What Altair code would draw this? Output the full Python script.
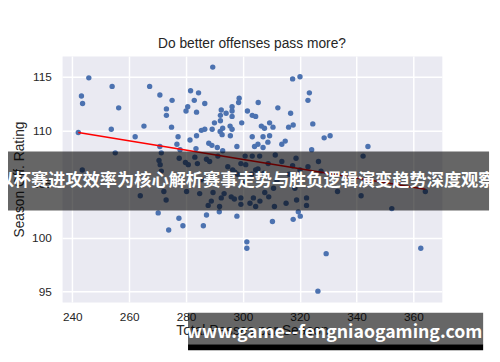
import altair as alt
import pandas as pd

# Total passes per season (x) and season offensive rating (y)
passes = [
    245.8, 254.0, 267.2, 243.2, 243.6, 256.3, 270.8, 275.1, 273.1, 273.1,
    242.1, 253.7, 265.2, 262.1, 274.9, 277.2, 276.8, 270.8, 277.9,
    289.4, 317.5, 320.1, 281.6, 284.4, 282.9, 286.6, 280.6, 280.0, 283.7,
    298.7, 298.5, 305.4, 296.2, 296.2, 296.2, 292.4, 294.1, 292.1,
    301.6, 303.3, 304.5, 312.3, 316.8, 322.9, 323.4,
    292.1, 290.0, 299.6, 286.6, 285.4, 289.2, 292.9, 292.0, 292.7,
    295.5, 296.2, 295.6, 306.5, 307.6, 309.4, 310.6, 316.1, 317.7,
    303.3, 307.1, 309.4, 283.7, 281.4, 288.0, 289.1, 291.0, 297.9,
    304.1, 305.3, 307.1, 308.8, 313.7, 314.9, 283.5, 292.9,
    324.6, 328.6, 330.7, 344.0, 324.2,
    255.1, 271.3, 270.5, 270.9, 271.3, 243.5, 277.6, 279.8,
    263.9, 272.2, 273.0,
    283.1, 287.2, 291.2, 300.8, 303.3, 305.9, 311.4, 313.7, 318.7,
    320.1, 317.5, 322.9, 280.8, 284.0, 288.3, 294.7, 299.3, 305.3, 308.9,
    296.4, 297.2, 298.1, 303.1, 304.5, 301.0, 307.4, 316.3, 326.6, 327.5,
    342.3, 333.3, 322.4, 322.4, 341.6, 352.4, 364.2,
    288.9, 292.4, 295.9, 299.3, 303.7, 306.0, 299.3, 302.5, 304.5,
    309.1, 315.2, 318.9, 291.8, 287.8, 280.2, 284.8, 289.5, 310.8, 318.3,
    293.4, 297.0, 311.1, 307.7,
    285.4, 300.5, 312.0,
    270.2, 273.9, 277.5, 278.9, 286.1, 287.2, 291.7, 297.9, 301.4, 301.4,
    310.4, 317.7, 319.5, 320.2, 329.3, 326.4, 362.6,
]
rating = [
    114.9, 114.1, 114.1, 113.2, 112.5, 112.1, 113.3, 112.8, 112.0, 111.4,
    109.8, 110.1, 110.4, 109.4, 110.3, 109.4, 108.7, 108.5, 108.2,
    115.9, 114.8, 115.0, 113.7, 113.5, 112.8, 112.5, 112.2, 111.8, 111.7,
    113.0, 112.6, 112.6, 112.2, 111.8, 111.3, 111.9, 111.6, 111.4,
    111.8, 111.4, 111.3, 112.1, 111.6, 112.8, 113.5,
    110.9, 110.7, 110.7, 110.1, 110.0, 110.1, 110.2, 109.9, 109.6,
    110.4, 110.1, 109.5, 110.4, 110.2, 110.7, 110.3, 110.3, 110.5,
    109.4, 109.4, 109.5, 109.5, 109.1, 108.8, 108.6, 108.4, 108.5,
    108.5, 108.7, 108.4, 108.9, 108.7, 109.0, 108.3, 108.1,
    110.6, 109.3, 109.5, 108.5, 108.2,
    107.9, 107.9, 107.2, 106.8, 106.2, 106.3, 107.4, 107.0,
    103.9, 104.3, 103.5,
    107.5, 107.3, 107.6, 107.6, 107.6, 107.6, 107.7, 107.1, 107.4,
    106.3, 106.7, 106.6, 106.8, 106.9, 107.1, 106.6, 106.9, 106.4, 106.9,
    106.3, 106.1, 105.9, 105.9, 106.3, 106.8, 106.0, 105.9, 107.1, 106.2,
    107.6, 104.3, 103.7, 103.0, 103.9, 102.7, 104.3,
    103.4, 103.7, 103.8, 103.7, 103.7, 103.4, 103.1, 103.2, 102.9,
    103.8, 103.2, 103.5, 102.9, 103.0, 104.3, 104.1, 104.2, 104.6, 104.6,
    104.1, 103.6, 102.9, 104.2,
    105.4, 105.1, 105.3,
    102.3, 100.7, 101.8, 101.1, 101.1, 102.1, 102.4, 102.0, 99.6, 99.0,
    101.5, 101.7, 102.4, 102.0, 98.5, 95.0, 99.0,
]

# fitted regression line end points
fit_x = [242.1, 364.2]
fit_y = [109.8, 104.5]

x_ticks = [240, 260, 280, 300, 320, 340, 360]
y_ticks = [95, 100, 105, 110, 115]

banner_text = "以杯赛进攻效率为核心解析赛事走势与胜负逻辑演变趋势深度观察"
mark_text = "www.game--fengniaogaming.com"

df = pd.DataFrame({"passes": passes, "rating": rating})
fit = pd.DataFrame({"passes": fit_x, "rating": fit_y})
one = pd.DataFrame({"k": [0]})

xs = alt.Scale(domain=[236.4, 370.0], nice=False, zero=False)
ys = alt.Scale(domain=[93.99, 116.93], nice=False, zero=False)

xax = alt.Axis(values=x_ticks, title="Total Passes per Season", labelPadding=10,
               titlePadding=1, format="d")
yax = alt.Axis(values=y_ticks, title="Season Off. Rating", labelPadding=11,
               titlePadding=5, format="d")

pts = alt.Chart(df).mark_circle(size=30, color="#4C72B0", opacity=1).encode(
    x=alt.X("passes:Q", scale=xs, axis=xax),
    y=alt.Y("rating:Q", scale=ys, axis=yax),
)
line = alt.Chart(fit).mark_line(color="#ff0000", strokeWidth=1.6).encode(
    x=alt.X("passes:Q", scale=xs),
    y=alt.Y("rating:Q", scale=ys),
)
banner = alt.Chart(one).mark_rect(color="black", opacity=0.6).encode(
    x=alt.value(-60), x2=alt.value(434), y=alt.value(97), y2=alt.value(157)
)
btxt = alt.Chart(one).mark_text(
    text=banner_text, font="Noto Sans CJK SC", fontWeight="bold", fontSize=17.5,
    color="white", align="center", baseline="middle"
).encode(x=alt.value(187), y=alt.value(127))
wm = alt.Chart(one).mark_rect(color="black", opacity=0.6).encode(
    x=alt.value(128), x2=alt.value(428), y=alt.value(261), y2=alt.value(293)
)
wmbar = alt.Chart(one).mark_rect(color="black", opacity=1).encode(
    x=alt.value(128), x2=alt.value(428), y=alt.value(293), y2=alt.value(299)
)
wmtxt = alt.Chart(one).mark_text(
    text=mark_text, font="Noto Sans CJK SC", fontWeight="bold", fontSize=18,
    color="white", align="center", baseline="alphabetic"
).encode(x=alt.value(277), y=alt.value(287))

chart = alt.layer(pts, line, banner, btxt, wm, wmbar, wmtxt).properties(
    width=386, height=250, autosize="none",
    padding={"left": 55, "top": 46, "right": 51, "bottom": 50},
    title=alt.TitleParams("Do better offenses pass more?", fontSize=14,
                          font="Liberation Sans", fontWeight="normal",
                          color="#262626", offset=5, anchor="middle"),
).configure_view(fill="#EAEAF2", strokeOpacity=0).configure_axis(
    grid=True, gridColor="white", gridWidth=1.5, domain=False, ticks=False,
    labelFont="Liberation Sans", labelFontSize=12, labelColor="#262626",
    titleFont="Liberation Sans", titleFontSize=14, titleFontWeight="normal",
    titleColor="#262626",
)

chart.save("out.html", embed_options={"renderer": "svg", "actions": False})
